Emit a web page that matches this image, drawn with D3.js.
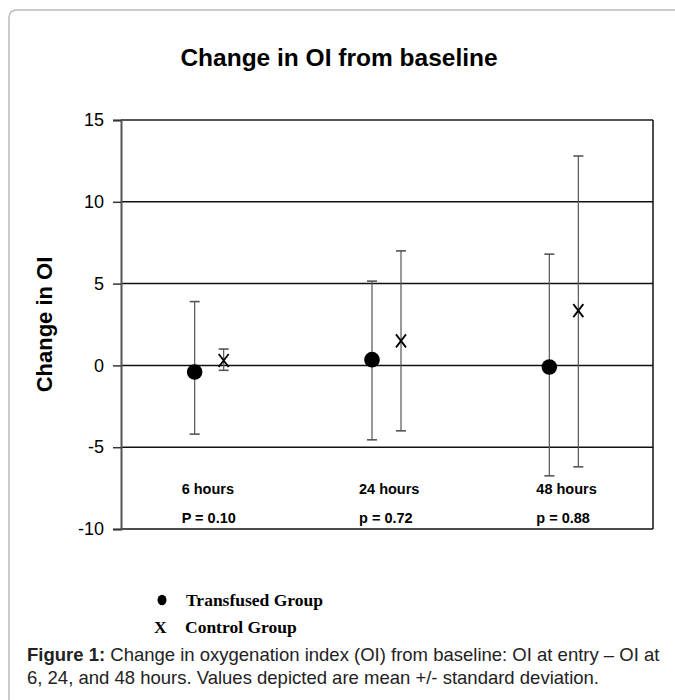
<!DOCTYPE html>
<html>
<head>
<meta charset="utf-8">
<script src="https://cdn.jsdelivr.net/npm/d3@7"></script>
<style>
  body { margin: 0; background: #fff; }
  svg { display: block; }
</style>
</head>
<body>
<svg id="chart" width="675" height="700"></svg>
<script>
// data
const categories = ["6 hours", "24 hours", "48 hours"];
const pLabels = ["P = 0.10", "p = 0.72", "p = 0.88"];
const transfusedMean = [-0.4, 0.35, -0.1];
const transfusedLow = [-4.2, -4.55, -6.75];
const transfusedHigh = [3.9, 5.15, 6.8];
const controlMean = [0.3, 1.5, 3.35];
const controlLow = [-0.3, -4.0, -6.2];
const controlHigh = [1.0, 7.0, 12.8];
const yTicks = [-10, -5, 0, 5, 10, 15];

const svg = d3.select("#chart");
const plotLeft = 121, plotRight = 653, plotTop = 120, plotBottom = 529;
const sans = "'Liberation Sans', Arial, sans-serif";

// frame round the figure (open on the right)
svg.append("path")
    .attr("d", `M9,700 L9,18 Q9,10 17,10 L675,10`)
    .attr("fill", "none")
    .attr("stroke", "#bbb")
    .attr("stroke-width", 1.5);

const x = d3.scaleBand().domain(categories).range([plotLeft, plotRight]);
const y = d3.scaleLinear().domain([-10, 15]).range([plotBottom, plotTop]);

// title
svg.append("text")
    .attr("x", 339).attr("y", 66)
    .attr("text-anchor", "middle")
    .style("font", `bold 24.5px ${sans}`)
    .text("Change in OI from baseline");

// horizontal grid lines
svg.append("g").selectAll("line")
    .data(yTicks)
    .join("line")
    .attr("x1", plotLeft).attr("x2", plotRight)
    .attr("y1", d => y(d)).attr("y2", d => y(d))
    .attr("stroke", d => d === 15 ? "#555" : "#111")
    .attr("stroke-width", d => d === 15 ? 2 : 1.5);

// right border
svg.append("line")
    .attr("x1", plotRight).attr("x2", plotRight)
    .attr("y1", plotTop).attr("y2", plotBottom)
    .attr("stroke", "#111").attr("stroke-width", 1.5);

// y axis
const yAxis = svg.append("g")
    .attr("transform", `translate(${plotLeft},0)`)
    .call(d3.axisLeft(y).tickValues(yTicks).tickSize(8).tickPadding(9)
        .tickFormat(d => String(d)));
yAxis.select(".domain").attr("stroke", "#555").attr("stroke-width", 2);
yAxis.selectAll(".tick line").attr("stroke", "#333").attr("stroke-width", 1.5);
yAxis.selectAll(".tick text")
    .attr("fill", "#000")
    .style("font", `18px ${sans}`);

svg.append("text")
    .attr("transform", `translate(52,${(plotTop + plotBottom) / 2}) rotate(-90)`)
    .attr("text-anchor", "middle")
    .style("font", `bold 22px ${sans}`)
    .text("Change in OI");

// category and p value labels inside the plot
const labelG = svg.append("g")
    .style("font", `bold 14.5px ${sans}`);
labelG.selectAll(".cat")
    .data(categories)
    .join("text")
    .attr("class", "cat")
    .attr("x", d => x(d) + x.bandwidth() / 2 - 28)
    .attr("y", 494)
    .text(d => d);
labelG.selectAll(".pval")
    .data(pLabels)
    .join("text")
    .attr("class", "pval")
    .attr("x", (d, i) => x(categories[i]) + x.bandwidth() / 2 - 28)
    .attr("y", 523)
    .text(d => d);

// error bars
const series = [
    { off: -15, mean: transfusedMean, low: transfusedLow, high: transfusedHigh },
    { off: 14, mean: controlMean, low: controlLow, high: controlHigh }
];
const cx = (s, i) => x(categories[i]) + x.bandwidth() / 2 + s.off;

series.forEach(s => {
    const g = svg.append("g").attr("stroke", "#555").attr("stroke-width", 1.2);
    g.selectAll(".stem")
        .data(categories)
        .join("line")
        .attr("class", "stem")
        .attr("x1", (d, i) => cx(s, i)).attr("x2", (d, i) => cx(s, i))
        .attr("y1", (d, i) => y(s.low[i])).attr("y2", (d, i) => y(s.high[i]));
    ["low", "high"].forEach(k => {
        g.selectAll(".cap-" + k)
            .data(categories)
            .join("line")
            .attr("class", "cap-" + k)
            .attr("x1", (d, i) => cx(s, i) - 5).attr("x2", (d, i) => cx(s, i) + 5)
            .attr("y1", (d, i) => y(s[k][i])).attr("y2", (d, i) => y(s[k][i]))
            .attr("stroke-width", 1.6);
    });
});

// transfused: filled circles
svg.append("g").selectAll("circle")
    .data(transfusedMean)
    .join("circle")
    .attr("cx", (d, i) => cx(series[0], i))
    .attr("cy", d => y(d))
    .attr("r", 7.8)
    .attr("fill", "#000");

// control: X marks
svg.append("g").selectAll("path")
    .data(controlMean)
    .join("path")
    .attr("d", (d, i) => {
        const px = cx(series[1], i), py = y(d);
        return `M${px - 5},${py - 6.5}L${px + 5},${py + 6.5}M${px + 5},${py - 6.5}L${px - 5},${py + 6.5}`;
    })
    .attr("stroke", "#000")
    .attr("stroke-width", 1.8)
    .attr("fill", "none");

// legend
const legendFont = "bold 17.5px 'Liberation Serif', 'Times New Roman', serif";
svg.append("ellipse").attr("cx", 162).attr("cy", 600).attr("rx", 4.5).attr("ry", 5.2).attr("fill", "#000");
svg.append("text").attr("x", 186).attr("y", 606).style("font", legendFont).text("Transfused Group");
svg.append("text").attr("x", 154).attr("y", 633).style("font", legendFont).text("X");
svg.append("text").attr("x", 185).attr("y", 633).style("font", legendFont).text("Control Group");

// caption
const cap = svg.append("g").style("font", `18.5px ${sans}`).attr("fill", "#222");
const line1 = cap.append("text").attr("x", 27).attr("y", 661);
line1.append("tspan").style("font-weight", "bold").text("Figure 1:");
line1.append("tspan").text(" Change in oxygenation index (OI) from baseline: OI at entry \u2013 OI at");
cap.append("text").attr("x", 27).attr("y", 684)
    .text("6, 24, and 48 hours. Values depicted are mean +/- standard deviation.");
</script>
</body>
</html>
